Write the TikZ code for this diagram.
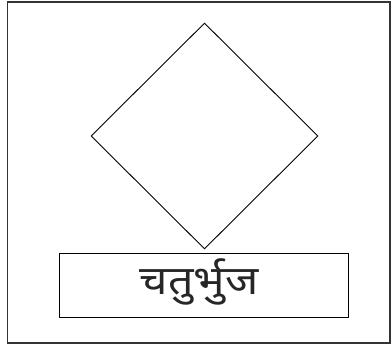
\documentclass[tikz,border=0pt]{standalone}
\usepackage{fontspec}
\newfontfamily\devfont[Script=Devanagari,FakeStretch=1.12]{Noto Sans}
\usetikzlibrary{shapes.geometric}
\begin{document}
\begin{tikzpicture}[x=1pt,y=1pt,
  frame/.style={draw=black!80,line width=1.2pt},
  shapeline/.style={draw,line width=0.9pt,inner sep=0pt},
  lbl/.style={font=\devfont\fontsize{40}{46}\selectfont,inner sep=0pt,text=black!85}]
\useasboundingbox (0,0) rectangle (391,344);
\node[frame,rectangle,minimum width=382.5pt,minimum height=341pt,inner sep=0pt] (outer) at (198.75,171.5) {};
\node[shapeline,diamond,minimum width=227pt,minimum height=226pt] (dia) at (204.5,208) {};
\node[shapeline,rectangle,minimum width=288.5pt,minimum height=64pt] (box) at (203.75,59) {};
\node[lbl,anchor=base] (txt) at (199,49) {चतुर्भुज};
\end{tikzpicture}
\end{document}
